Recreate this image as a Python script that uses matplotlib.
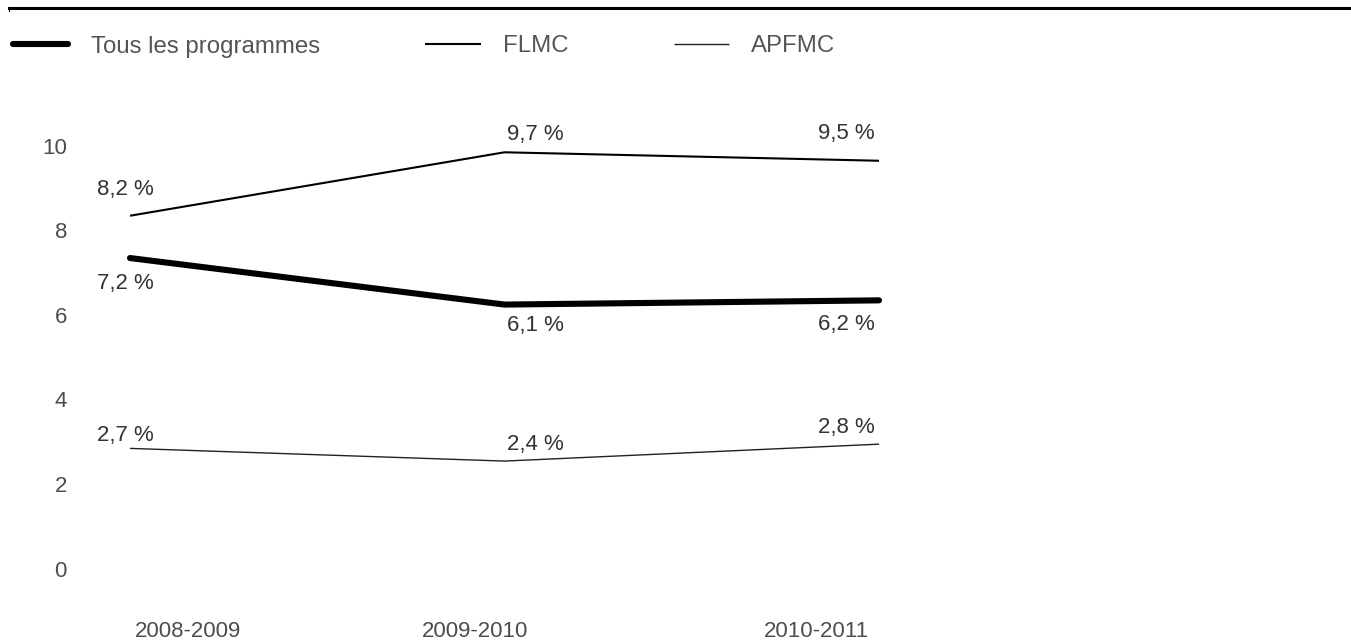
import matplotlib
matplotlib.use("Agg")
import matplotlib.pyplot as plt
import matplotlib.transforms as mtransforms
from matplotlib.lines import Line2D

plt.rcParams["font.family"] = ["Liberation Sans", "DejaVu Sans"]

# ---- data -------------------------------------------------------------
years = ["2008-2009", "2009-2010", "2010-2011"]
tous = [7.2, 6.1, 6.2]
flmc = [8.2, 9.7, 9.5]
apfmc = [2.7, 2.4, 2.8]
series_names = ["Tous les programmes", "FLMC", "APFMC"]
y_ticks = [0, 2, 4, 6, 8, 10]

# ---- figure -------------------------------------------------------------
W, H, DPI = 1351, 640, 100
fig = plt.figure(figsize=(W / DPI, H / DPI), dpi=DPI)
fig.patch.set_facecolor("white")

# axes placed in pixel space
ax_left, ax_right = 75, 953.9
ax_bottom, ax_top = 583.75, 118.45
ax = fig.add_axes([ax_left / W, 1 - ax_bottom / H,
                   (ax_right - ax_left) / W, (ax_bottom - ax_top) / H])
ax.set_xlim(-0.1469, 2.2)
ax.set_ylim(-0.5, 10.5)
for s in ax.spines.values():
    s.set_visible(False)

x = list(range(len(years)))
styles = {
    "Tous les programmes": dict(color="black", lw=4.4, solid_capstyle="round"),
    "FLMC": dict(color="black", lw=1.5, solid_capstyle="butt"),
    "APFMC": dict(color="#222222", lw=1.0, solid_capstyle="butt"),
}
values = {"Tous les programmes": tous, "FLMC": flmc, "APFMC": apfmc}

for name in series_names:
    ax.plot(x, values[name], **styles[name], zorder=3)

# value labels: horizontal anchor per position, vertical offset per series (pixels)
h_align = [("center", -5), ("left", 2), ("right", -4)]
v_offsets = {
    "Tous les programmes": [-25, -21, -24.5],
    "FLMC": [26, 18, 27],
    "APFMC": [13, 17, 17],
}
for name in series_names:
    for i, v in enumerate(values[name]):
        ha, dx = h_align[i]
        ax.annotate(f"{v:.1f} %".replace(".", ","), (i, v),
                    xytext=(dx, v_offsets[name][i]), textcoords="offset pixels",
                    ha=ha, va="center", fontsize=16, color="#333333")

# y axis
ax.set_yticks(y_ticks)
ax.set_yticklabels([str(t) for t in y_ticks])
ax.tick_params(axis="y", length=0, pad=5.8, labelsize=16, labelcolor="#4d4d4d")
for lab in ax.get_yticklabels():
    lab.set_transform(lab.get_transform() +
                      mtransforms.ScaledTranslation(0, -6 / DPI, fig.dpi_scale_trans))

# x axis: category labels with per-label horizontal shift
ax.set_xticks(x)
ax.set_xticklabels(years)
ax.tick_params(axis="x", length=0, pad=27, labelsize=16, labelcolor="#4d4d4d")
x_shift = [58, -29.5, -63]
for lab, dx in zip(ax.get_xticklabels(), x_shift):
    lab.set_transform(lab.get_transform() +
                      mtransforms.ScaledTranslation(dx / DPI, 0, fig.dpi_scale_trans))

# legend across the top
handles = [Line2D([], [], **styles[n]) for n in series_names]
leg = fig.legend(handles, series_names, loc="center left",
                 bbox_to_anchor=(6 / W, 1 - 46.5 / H), ncol=3, frameon=False,
                 fontsize=17.3, handlelength=2.3, handletextpad=0.92,
                 columnspacing=4.4, borderaxespad=0, borderpad=0.3)
for t in leg.get_texts():
    t.set_color("#555555")

# rule across the top of the figure
fig.add_artist(Line2D([9 / W, 1], [1 - 7.5 / H, 1 - 7.5 / H],
                      transform=fig.transFigure, color="black", lw=2.2))
fig.add_artist(Line2D([9 / W, 9 / W], [1 - 7.5 / H, 1 - 11 / H],
                      transform=fig.transFigure, color="black", lw=0.8))

fig.savefig("out.png", dpi=DPI, facecolor="white")
